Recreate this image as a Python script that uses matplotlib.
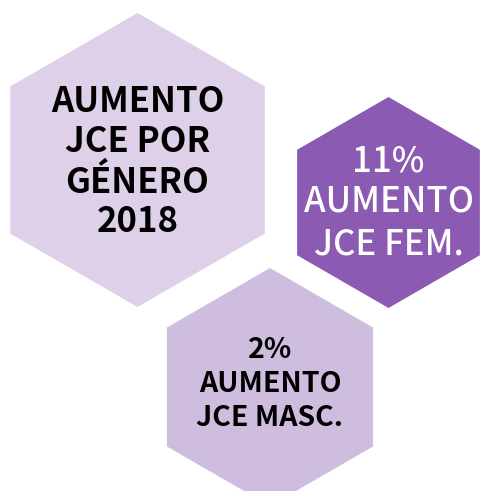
import matplotlib
matplotlib.use("Agg")
import matplotlib.pyplot as plt
from matplotlib.patches import RegularPolygon
import numpy as np

# Data
year = 2018
categories = ["FEM.", "MASC."]
increase_pct = [11, 2]
title_lines = ["AUMENTO", "JCE POR", "GÉNERO", str(year)]

# Layout (pixels, y down)
W, H = 482, 491
hex_centers = [(137.5, 160.0), (388.5, 202.5), (270.0, 387.0)]
hex_radii = [147.0, 105.5, 119.0]
hex_colors = ["#ddd0e8", "#8b5ab3", "#cfbde0"]
text_colors = ["black", "white", "black"]
font_sizes = [25, 25, 20.5]
font_weights = ["bold", "medium", "bold"]
line_ys = [
    [101, 142, 182, 222],
    [161, 202, 244],
    [350, 384, 418],
]

fig = plt.figure(figsize=(W / 100, H / 100), dpi=100)
ax = fig.add_axes([0, 0, 1, 1])
ax.set_xlim(0, W)
ax.set_ylim(H, 0)
ax.axis("off")

for c, r, col in zip(hex_centers, hex_radii, hex_colors):
    ax.add_patch(RegularPolygon(c, numVertices=6, radius=r, orientation=0,
                                facecolor=col, edgecolor="none"))

texts = [
    title_lines,
    [f"{increase_pct[0]}%", "AUMENTO", f"JCE {categories[0]}"],
    [f"{increase_pct[1]}%", "AUMENTO", f"JCE {categories[1]}"],
]
fam = ["Noto Sans CJK JP", "DejaVu Sans"]
for i, lines in enumerate(texts):
    for line, y in zip(lines, line_ys[i]):
        ax.text(hex_centers[i][0], y, line, ha="center", va="center",
                fontsize=font_sizes[i], fontweight=font_weights[i],
                color=text_colors[i], family=fam)

fig.savefig("out.png", dpi=100)
